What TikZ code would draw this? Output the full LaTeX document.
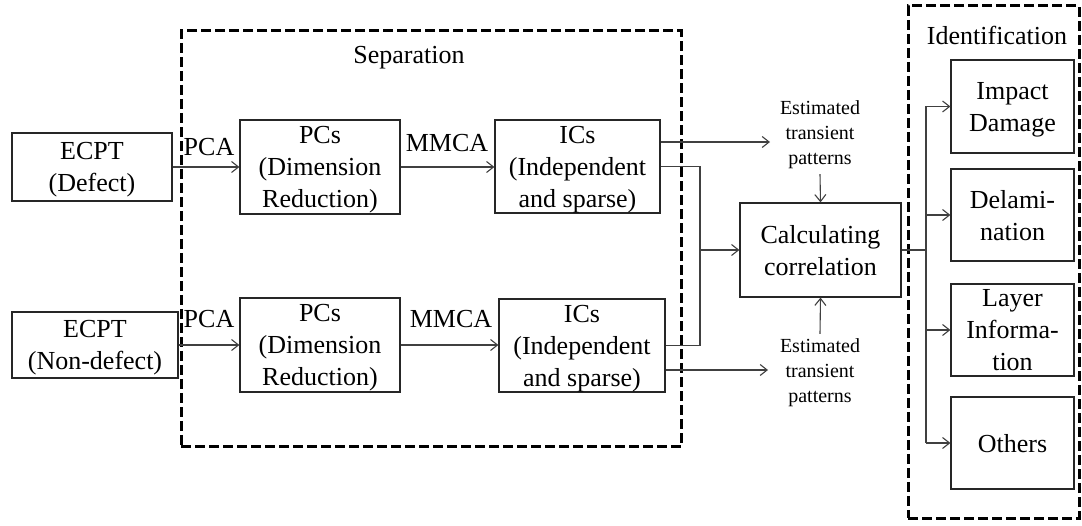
\documentclass[tikz,border=0pt]{standalone}
\usepackage{fontspec}
\setmainfont{Liberation Serif}
\usetikzlibrary{arrows.meta}
\begin{document}
\begin{tikzpicture}[x=1pt,y=-1pt,
  box/.style={draw=black!85, line width=1.2pt, inner sep=0pt, align=center,
              text depth=-3pt, font=\fontsize{26}{32}\selectfont},
  lbl/.style={inner sep=0pt, font=\fontsize{26}{32}\selectfont},
  small/.style={inner sep=0pt, outer sep=5pt, align=center,
                font=\fontsize{20}{25}\selectfont},
  group/.style={draw=black, line width=3pt, dash pattern=on 10pt off 4pt,
                inner sep=0pt},
  link/.style={draw=black!75, line width=1.1pt},
  arr/.style={link, -{Straight Barb[length=7pt,width=11pt]}},
]
\useasboundingbox (0,0) rectangle (1082,526);

% dashed stage frames
\node[group, minimum width=500, minimum height=416] (sep) at (431,239) {};
\node[group, minimum width=171, minimum height=512] (ident) at (993.5,262) {};
\node[lbl] (septitle) at (409,58) {Separation};
\node[lbl] (idtitle) at (997,35) {Identification};

% inputs
\node[box, minimum width=160, minimum height=68] (ecptA) at (92,167) {ECPT\\(Defect)};
\node[box, minimum width=166, minimum height=66] (ecptB) at (95,345) {ECPT\\(Non-defect)};

% separation stage
\node[box, minimum width=160, minimum height=94] (pcsA) at (320,167) {PCs\\(Dimension\\Reduction)};
\node[box, minimum width=160, minimum height=94] (pcsB) at (320,345) {PCs\\(Dimension\\Reduction)};
\node[box, minimum width=165, minimum height=93] (icsA) at (577.5,166.5) {ICs\\(Independent\\and sparse)};
\node[box, minimum width=166, minimum height=93] (icsB) at (582,345.5) {ICs\\(Independent\\and sparse)};

\node[lbl] (pcaA) at (209,147) {PCA};
\node[lbl] (pcaB) at (209,319) {PCA};
\node[lbl] (mmcaA) at (447,143) {MMCA};
\node[lbl] (mmcaB) at (451,319) {MMCA};

\draw[arr] (ecptA.east) -- (pcsA.west);
\draw[arr] (ecptB.east) -- (pcsB.west);
\draw[arr] (pcsA.east) -- (pcsA.east -| icsA.west);
\draw[arr] (pcsB.east) -- (pcsB.east -| icsB.west);

% correlation
\node[box, minimum width=161, minimum height=94] (calc) at (820.5,250) {Calculating\\correlation};
\node[small] (estA) at (820,135) {Estimated\\transient\\patterns};
\node[small] (estB) at (820,373) {Estimated\\transient\\patterns};

\coordinate (tipA) at (770,142);
\coordinate (tipB) at (768,370);
\coordinate (join) at (700,250);
\draw[arr] (icsA.east |- tipA) -- (tipA);
\draw[arr] (icsB.east |- tipB) -- (tipB);
\draw[link] (icsA.east) -| (join) |- (icsB.east);
\draw[arr] (join) -- (calc.west);
\draw[arr] (estA.south) -- (calc.north);
\draw[arr] (estB.north) -- (calc.south);

% identification stage
\node[box, minimum width=123, minimum height=93] (impact) at (1012.5,106.5) {Impact\\Damage};
\node[box, minimum width=123, minimum height=92] (delam) at (1012.5,215) {Delami-\\nation};
\node[box, minimum width=123, minimum height=92] (layer) at (1012.5,330) {Layer\\Informa-\\tion};
\node[box, minimum width=123, minimum height=92] (others) at (1012.5,443) {Others};

\coordinate (bus) at (926,250);
\draw[link] (calc.east) -- (bus);
\draw[link] (bus |- impact.west) -- (bus |- others.west);
\draw[arr] (bus |- impact.west) -- (impact.west);
\draw[arr] (bus |- delam.west) -- (delam.west);
\draw[arr] (bus |- layer.west) -- (layer.west);
\draw[arr] (bus |- others.west) -- (others.west);
\end{tikzpicture}
\end{document}
